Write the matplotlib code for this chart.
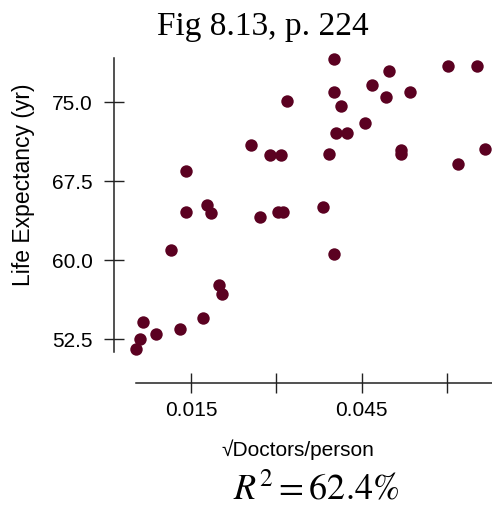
import numpy as np
import matplotlib
matplotlib.use("Agg")
from matplotlib import pyplot as plt

# Data
sqrt_doctors = [0.0402, 0.0602, 0.0653, 0.0498, 0.0468, 0.0402, 0.0535, 0.0493,
                0.0319, 0.0413, 0.0456, 0.0404, 0.0424, 0.0255, 0.0288, 0.0308,
                0.0392, 0.0519, 0.0519, 0.0666, 0.0619, 0.0141, 0.0141, 0.0178,
                0.0186, 0.0272, 0.0303, 0.0311, 0.0381, 0.0115, 0.0402, 0.0199,
                0.0204, 0.0066, 0.0171, 0.0089, 0.0131, 0.0061, 0.0053]
life_exp = [79.1, 78.45, 78.45, 78.0, 76.65, 76.0, 76.0, 75.5,
            75.1, 74.6, 73.0, 72.05, 72.05, 70.95, 70.0, 70.0,
            70.1, 70.5, 70.05, 70.55, 69.15, 68.5, 64.6, 65.2,
            64.5, 64.1, 64.55, 64.55, 65.05, 61.0, 60.55, 57.65,
            56.8, 54.1, 54.55, 53.0, 53.45, 52.55, 51.55]

x_ticks = [0.015, 0.030, 0.045, 0.060]
x_ticklabels = ["0.015", "", "0.045", ""]
y_ticks = [52.5, 60.0, 67.5, 75.0]
y_ticklabels = ["52.5", "60.0", "67.5", "75.0"]

dot_color = "#5b0121"
axis_color = "#222222"
sans = ["Liberation Sans", "DejaVu Sans"]

plt.rcParams["mathtext.fontset"] = "stix"

fig = plt.figure(figsize=(4.92, 5.12), dpi=100)
ax = fig.add_axes([114 / 492, 129 / 512, 378 / 492, 343 / 512])

ax.scatter(sqrt_doctors, life_exp, s=80, color=dot_color, linewidths=0,
           clip_on=False, zorder=3)

ax.set_xlim(0.00148, 0.06786)
ax.set_ylim(48.35, 80.91)

# detached-looking axes: spines only cover part of the box
for side in ["top", "right"]:
    ax.spines[side].set_visible(False)
ax.spines["left"].set_bounds(51.29, 79.2)
ax.spines["bottom"].set_bounds(0.00534, 0.06786)
for side in ["left", "bottom"]:
    ax.spines[side].set_color(axis_color)
    ax.spines[side].set_linewidth(1.1)

ax.set_xticks(x_ticks)
ax.set_xticklabels(x_ticklabels)
ax.set_yticks(y_ticks)
ax.set_yticklabels(y_ticklabels)
ax.tick_params(direction="inout", length=14.4, width=1.0, color=axis_color,
               labelsize=15)
ax.tick_params(axis="x", pad=6)
ax.tick_params(axis="y", pad=8)
for lab in ax.get_xticklabels() + ax.get_yticklabels():
    lab.set_family(sans)

ax.set_xlabel("\u221aDoctors/person", fontsize=15, family=sans)
ax.xaxis.set_label_coords(0.487, -0.165)
ax.set_ylabel("Life Expectancy (yr)", fontsize=16.5, family=sans)
ax.yaxis.set_label_coords(-0.209, 0.578)

fig.text(263 / 492, 1 - 35 / 512, "Fig 8.13, p. 224", ha="center",
         va="baseline", fontsize=24, family="Liberation Serif")
fig.text(316 / 492, 1 - 500 / 512, r"$R^2 = 62.4\%$", ha="center",
         va="baseline", fontsize=26)

fig.savefig("out.png", dpi=100)
